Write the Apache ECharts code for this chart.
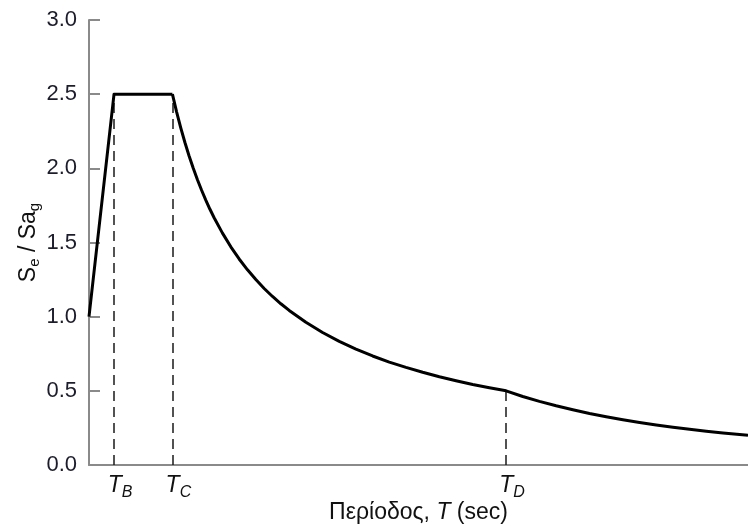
<!DOCTYPE html>
<html>
<head>
<meta charset="utf-8">
<script src="https://cdn.jsdelivr.net/npm/echarts@6/dist/echarts.min.js"></script>
<style>
  html, body { margin: 0; padding: 0; background: #fff; }
  #chart { width: 748px; height: 526px; }
</style>
</head>
<body>
<div id="chart"></div>
<script>
// ramp and plateau of the spectrum (straight segments)
const rampPeriods = [0, 0.15, 0.5];
const rampRatios = [1.0, 2.5, 2.5];

// descending branch after T_C
const decayPeriods = [0.5, 0.525, 0.55, 0.575, 0.6, 0.625, 0.65, 0.675, 0.7, 0.725, 0.75, 0.8, 0.85, 0.9, 0.95, 1.0, 1.05, 1.1, 1.15, 1.2, 1.3, 1.4, 1.5, 1.6, 1.7, 1.8, 1.9, 2.0, 2.1, 2.2, 2.3, 2.4, 2.5, 2.6, 2.7, 2.8, 2.9, 3.0, 3.1, 3.2, 3.3, 3.4, 3.5, 3.6, 3.7, 3.8, 3.95];
const decayRatios = [2.5, 2.381, 2.273, 2.174, 2.083, 2.0, 1.923, 1.852, 1.786, 1.724, 1.667, 1.563, 1.471, 1.389, 1.316, 1.25, 1.19, 1.136, 1.087, 1.042, 0.962, 0.893, 0.833, 0.781, 0.735, 0.694, 0.658, 0.625, 0.595, 0.568, 0.543, 0.521, 0.5, 0.462, 0.429, 0.399, 0.372, 0.347, 0.325, 0.305, 0.287, 0.27, 0.255, 0.241, 0.228, 0.216, 0.2];

// corner periods and the curve height where the dashed guides stop
const cornerNames = ['B', 'C', 'D'];
const cornerPeriods = [0.15, 0.5, 2.5];
const cornerValues = [2.5, 2.5, 0.5];

let myChart = echarts.init(document.getElementById('chart'));

const guideLines = cornerPeriods.map((t, i) => [
  { coord: [t, 0] },
  { coord: [t, cornerValues[i]] }
]);

const curveStyle = { color: '#000', width: 3, join: 'round' };

let option = {
  animation: false,
  grid: {
    left: 89,
    right: 0,
    top: 20,
    bottom: 61,
    containLabel: false,
    outerBoundsMode: 'none'
  },
  xAxis: {
    type: 'value',
    min: 0,
    max: 3.95,
    name: '{a|Περίοδος, }{i|T}{a| (sec)}',
    nameLocation: 'middle',
    nameGap: 36,
    nameMoveOverlap: false,
    nameTextStyle: {
      rich: {
        a: { fontFamily: 'Liberation Sans', fontSize: 23, color: '#111' },
        i: { fontFamily: 'Liberation Sans', fontSize: 23, fontStyle: 'italic', color: '#111' }
      }
    },
    splitLine: { show: false },
    axisLine: { lineStyle: { color: '#8a8a8a', width: 2 } },
    axisTick: { show: false },
    axisLabel: {
      customValues: cornerPeriods,
      margin: 5,
      padding: [0, 0, 0, 12],
      formatter: function (v) {
        const i = cornerPeriods.indexOf(v);
        return i < 0 ? '' : '{t|T}{s|' + cornerNames[i] + '}';
      },
      rich: {
        t: { fontFamily: 'Liberation Sans', fontSize: 23, fontStyle: 'italic', color: '#111', lineHeight: 24 },
        s: { fontFamily: 'Liberation Sans', fontSize: 16, fontStyle: 'italic', color: '#111', padding: [15, 0, 0, 0] }
      }
    }
  },
  yAxis: {
    type: 'value',
    min: 0,
    max: 3.0,
    interval: 0.5,
    name: '{a|S}{s|e}{a| / Sa}{s|g}',
    nameLocation: 'middle',
    nameGap: 47,
    nameMoveOverlap: false,
    nameTextStyle: {
      rich: {
        a: { fontFamily: 'Liberation Sans', fontSize: 23, color: '#111' },
        s: { fontFamily: 'Liberation Sans', fontSize: 15, color: '#111', padding: [12, 0, 0, 0] }
      }
    },
    splitLine: { show: false },
    axisLine: { show: true, lineStyle: { color: '#8a8a8a', width: 2 } },
    axisTick: { show: true, inside: true, length: 11, lineStyle: { color: '#8a8a8a', width: 2 } },
    axisLabel: {
      margin: 12,
      fontFamily: 'Liberation Sans',
      fontSize: 22,
      color: '#1c1c2c',
      formatter: v => v.toFixed(1)
    }
  },
  series: [
    {
      type: 'line',
      data: rampPeriods.map((t, i) => [t, rampRatios[i]]),
      showSymbol: false,
      lineStyle: curveStyle,
      z: 3,
      markLine: {
        silent: true,
        symbol: 'none',
        label: { show: false },
        lineStyle: { color: '#1a1a1a', width: 1.5, type: [10, 6] },
        data: guideLines,
        z: 2
      }
    },
    {
      type: 'line',
      data: decayPeriods.map((t, i) => [t, decayRatios[i]]),
      showSymbol: false,
      lineStyle: curveStyle,
      z: 3
    }
  ]
};

myChart.setOption(option);
</script>
</body>
</html>
